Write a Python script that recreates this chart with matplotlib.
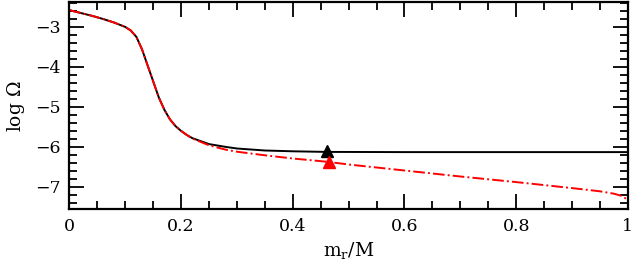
import matplotlib
matplotlib.use("Agg")
import matplotlib.pyplot as plt
from matplotlib.ticker import MultipleLocator

# mass coordinate and log Omega
m_black = [0.0, 0.02, 0.04, 0.06, 0.08, 0.10, 0.11, 0.12, 0.13, 0.14, 0.15,
           0.16, 0.17, 0.18, 0.19, 0.20, 0.21, 0.22, 0.25, 0.28, 0.30, 0.35,
           0.40, 0.46, 0.60, 0.80, 1.0]
logw_black = [-2.58, -2.65, -2.72, -2.80, -2.89, -3.00, -3.09, -3.25, -3.56,
              -3.96, -4.36, -4.76, -5.07, -5.31, -5.48, -5.60, -5.70, -5.78,
              -5.93, -6.00, -6.04, -6.09, -6.11, -6.125, -6.13, -6.13, -6.13]

m_red = [0.0, 0.02, 0.04, 0.06, 0.08, 0.10, 0.11, 0.12, 0.13, 0.14, 0.15,
         0.16, 0.17, 0.18, 0.19, 0.20, 0.21, 0.22, 0.25, 0.28, 0.30, 0.35,
         0.40, 0.46, 0.50, 0.60, 0.70, 0.80, 0.90, 0.95, 0.975, 0.99, 1.0]
logw_red = [-2.58, -2.65, -2.72, -2.80, -2.89, -3.00, -3.09, -3.25, -3.56,
            -3.96, -4.36, -4.76, -5.07, -5.31, -5.48, -5.60, -5.70, -5.79,
            -5.96, -6.07, -6.12, -6.21, -6.29, -6.37, -6.44, -6.59, -6.74,
            -6.88, -7.03, -7.11, -7.17, -7.23, -7.33]

# triangle markers
m_tri = [0.461, 0.465]
logw_tri = [-6.09, -6.39]
tri_colors = ['black', 'red']

plt.rcParams['font.family'] = 'DejaVu Serif'
plt.rcParams['mathtext.fontset'] = 'dejavuserif'

fig = plt.figure(figsize=(6.31, 2.69), dpi=100)
ax = fig.add_axes([0.110, 0.222, 0.885, 0.770])

ax.plot(m_black, logw_black, color='black', lw=1.4)
ax.plot(m_red, logw_red, color='red', lw=1.4, dashes=(6, 1.6, 1, 1.6))
for xm, ym, c in zip(m_tri, logw_tri, tri_colors):
    ax.plot(xm, ym, marker='^', color=c, markersize=9, linestyle='none')

ax.set_xlim(0, 1)
ax.set_ylim(-7.56, -2.38)

ax.xaxis.set_minor_locator(MultipleLocator(0.05))
ax.yaxis.set_minor_locator(MultipleLocator(0.2))
ax.set_xticks([0, 0.2, 0.4, 0.6, 0.8, 1.0])
ax.set_xticklabels(['0', '0.2', '0.4', '0.6', '0.8', '1'])
ax.set_yticks([-7, -6, -5, -4, -3])
ax.set_yticklabels(['\u22127', '\u22126', '\u22125', '\u22124', '\u22123'])

ax.tick_params(which='both', direction='in', top=True, right=True,
               labelsize=12.5, width=1.3)
ax.tick_params(which='major', length=11, pad=6)
ax.tick_params(which='minor', length=6)
for s in ax.spines.values():
    s.set_linewidth(1.6)

ax.set_xlabel(r'$\mathregular{m_r/M}$', fontsize=13.5, labelpad=4)
ax.set_ylabel(r'log $\Omega$', fontsize=13.5, labelpad=6)

fig.savefig('out.png', dpi=100)
